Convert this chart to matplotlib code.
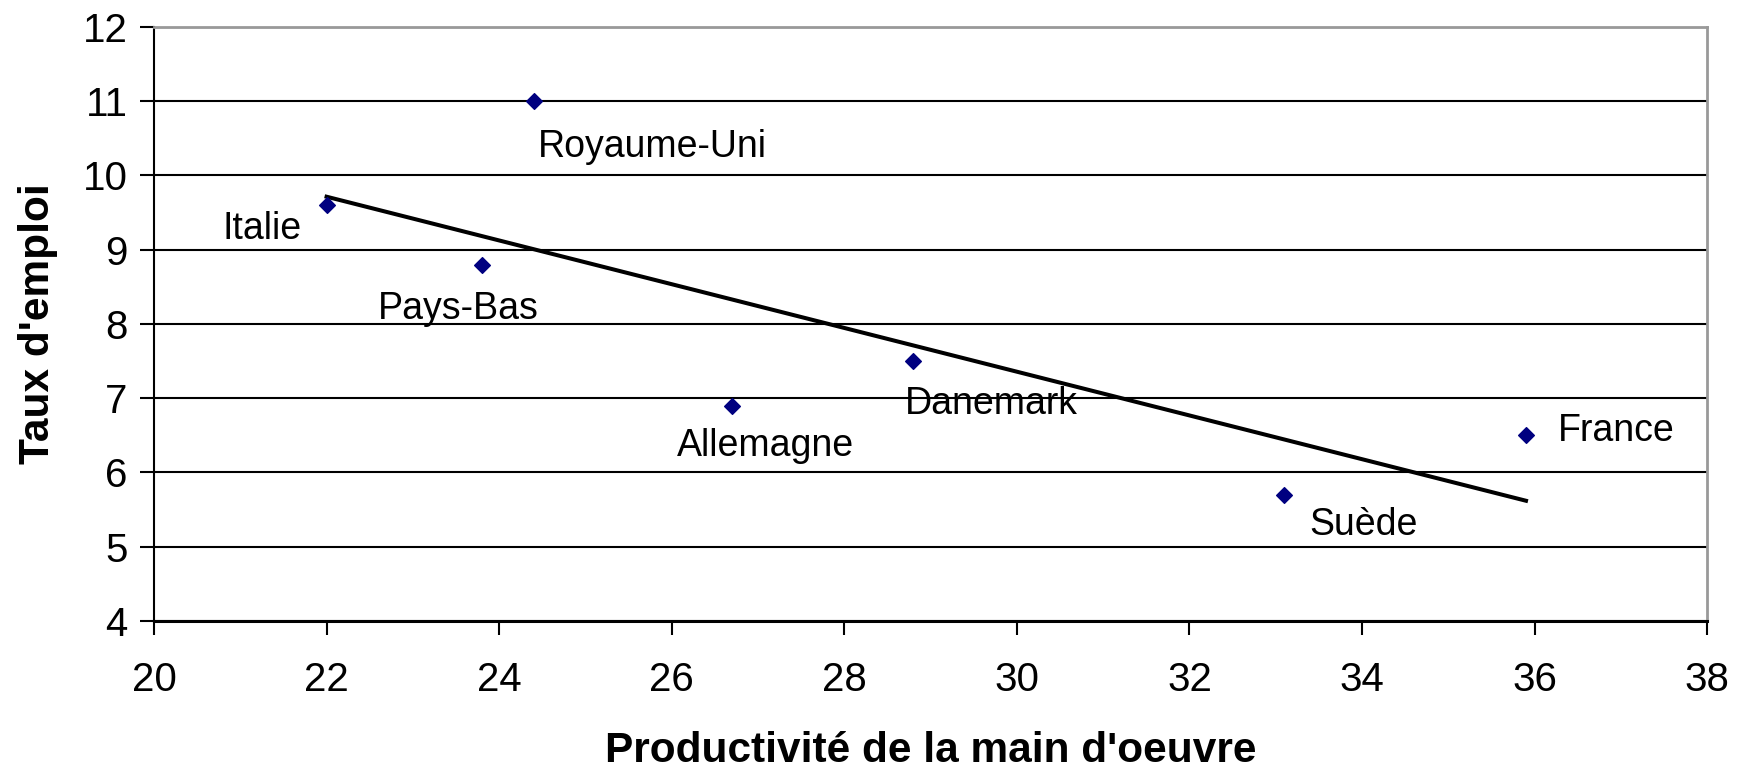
import numpy as np
import matplotlib
matplotlib.use("Agg")
from matplotlib import pyplot as plt

plt.rcParams['font.family'] = ['Liberation Sans', 'DejaVu Sans']

# data
pays = ['Royaume-Uni', 'Italie', 'Pays-Bas', 'Allemagne', 'Danemark', 'Suède', 'France']
productivite = [24.4, 22.0, 23.8, 26.7, 28.8, 33.1, 35.9]
taux_emploi = [11.0, 9.6, 8.8, 6.9, 7.5, 5.7, 6.5]

xticks = list(range(20, 39, 2))
yticks = list(range(4, 13))

# label offsets in points + alignment
offsets = {
    'Royaume-Uni': (3, -33, 'left'),
    'Italie': (-18, -17, 'right'),
    'Pays-Bas': (-17, -32, 'center'),
    'Allemagne': (24, -29, 'center'),
    'Danemark': (-6, -31, 'left'),
    'Suède': (18, -22, 'left'),
    'France': (23, 3, 'left'),
}

fig = plt.figure(figsize=(17.6, 7.73), dpi=100)
ax = fig.add_axes([0.0875, 0.197, 0.8825, 0.768])

ax.set_xlim(xticks[0], xticks[-1])
ax.set_ylim(yticks[0], yticks[-1])
ax.set_xticks(xticks)
ax.set_yticks(yticks)

ax.set_axisbelow(True)
ax.grid(axis='y', color='black', lw=1.5)

ax.scatter(productivite, taux_emploi, marker='D', s=64, color='#000080', zorder=3)

# linear trend line
a, b = np.polyfit(productivite, taux_emploi, 1)
xs = np.array([min(productivite), max(productivite)])
ax.plot(xs, a * xs + b, color='black', lw=2.9, zorder=2)

for name, x, y in zip(pays, productivite, taux_emploi):
    dx, dy, ha = offsets[name]
    ax.annotate(name, (x, y), xytext=(dx, dy), textcoords='offset points',
                ha=ha, va='center', fontsize=27)

for s in ['top', 'right']:
    ax.spines[s].set_color('#999999')
    ax.spines[s].set_linewidth(2)
ax.spines['left'].set_color('black')
ax.spines['left'].set_linewidth(1.5)
ax.spines['bottom'].set_color('black')
ax.spines['bottom'].set_linewidth(2.2)

ax.tick_params(axis='both', labelsize=29, length=10, width=1.5, color='black')
ax.tick_params(axis='x', pad=19)
ax.tick_params(axis='y', pad=9)

ax.set_xlabel("Productivité de la main d'oeuvre", fontsize=30.5, fontweight='bold', labelpad=23)
ax.set_ylabel("Taux d'emploi", fontsize=30.5, fontweight='bold', labelpad=18)

fig.savefig('out.png', dpi=100)
